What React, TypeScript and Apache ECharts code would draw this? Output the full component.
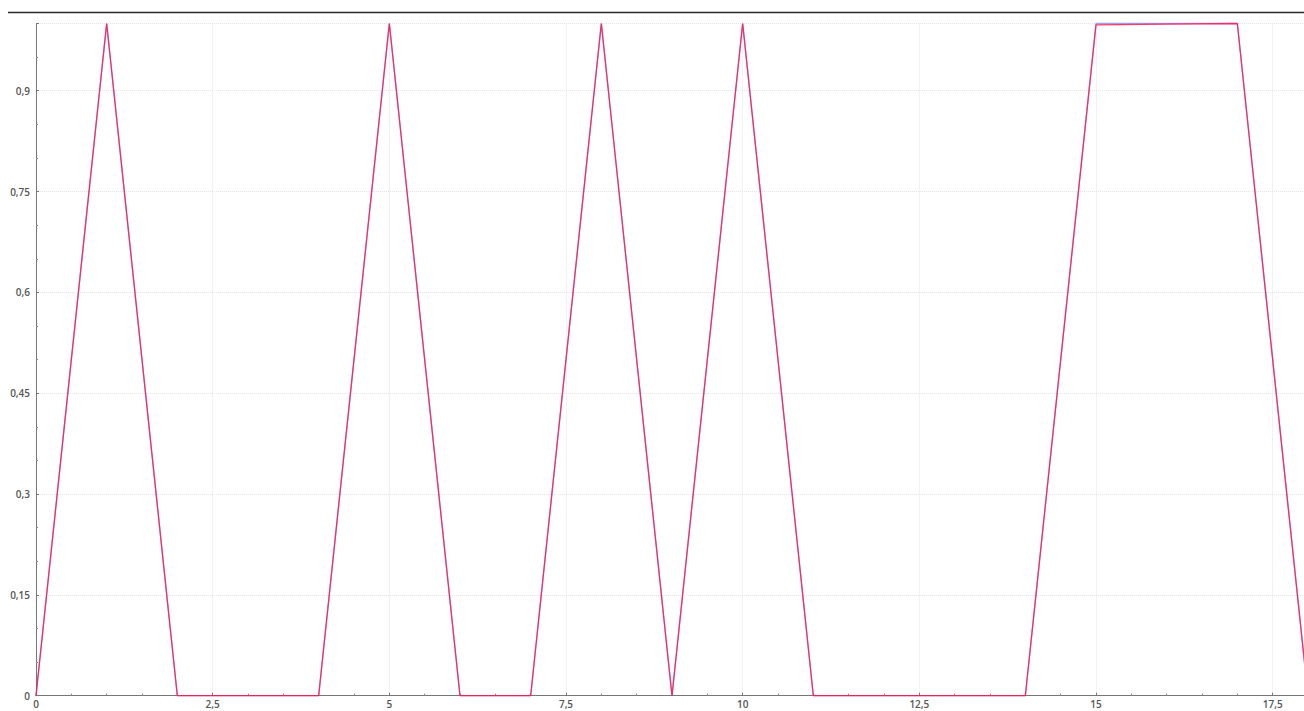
import React, { useEffect, useRef } from "react";
import * as echarts from "echarts";

const xValues = [0, 1, 2, 3, 4, 5, 6, 7, 8, 9, 10, 11, 12, 13, 14, 15, 16, 17, 18];
const blueValues = [0, 1, 0, 0, 0, 1, 0, 0, 1, 0, 1, 0, 0, 0, 0, 1, 1, 1, 0];
const redValues = [0, 1, 0, 0, 0, 1, 0, 0, 1, 0, 1, 0, 0, 0, 0, 0.998, 0.999, 1, 0];

const fmt = (v: number) => String(+v.toFixed(2)).replace(".", ",");

export default function App() {
  const ref = useRef<HTMLDivElement>(null);
  useEffect(() => {
    if (!ref.current) return;
    const chart = echarts.init(ref.current, null, { renderer: "svg" });
    const labelStyle = {
      fontFamily: "'Open Sans', 'Noto Sans', sans-serif",
      fontSize: 10,
      fontWeight: 600,
      color: "#555",
    };
    chart.setOption({
      animation: false,
      backgroundColor: "#ffffff",
      grid: { left: 36, right: 2, top: 23.5, bottom: 15.3, containLabel: false },
      graphic: [
        {
          type: "line",
          shape: { x1: 8, y1: 12.5, x2: 1310, y2: 12.5 },
          style: { stroke: "#2a2a2a", lineWidth: 1.5 },
          silent: true,
        },
      ],
      xAxis: {
        type: "value",
        min: 0,
        max: 18,
        interval: 2.5,
        z: 3,
        axisLine: { show: true, lineStyle: { color: "#777", width: 1 } },
        axisTick: { show: true, inside: true, length: 3, lineStyle: { color: "#777" } },
        minorTick: { show: true, splitNumber: 5, length: 2, lineStyle: { color: "#888" } },
        splitLine: { show: true, lineStyle: { color: "#e4e4e4", type: "dotted", width: 1 } },
        axisLabel: { ...labelStyle, margin: 3, showMaxLabel: false, formatter: (v: number) => fmt(v) },
      },
      yAxis: {
        type: "value",
        min: 0,
        max: 1,
        interval: 0.15,
        z: 3,
        axisLine: { show: true, lineStyle: { color: "#777", width: 1 } },
        axisTick: { show: true, inside: true, length: 3, lineStyle: { color: "#777" } },
        minorTick: { show: true, splitNumber: 3, length: 2, lineStyle: { color: "#888" } },
        splitLine: { show: true, lineStyle: { color: "#e4e4e4", type: "dotted", width: 1 } },
        axisLabel: {
          ...labelStyle,
          margin: 6,
          showMaxLabel: false,
          formatter: (v: number) => (v > 0.95 ? "" : fmt(v)),
        },
      },
      series: [
        {
          type: "line",
          name: "blue",
          data: xValues.map((x, i) => [x, blueValues[i]]),
          showSymbol: false,
          clip: false,
          lineStyle: { color: "rgba(90,90,255,0.55)", width: 1.3 },
          itemStyle: { color: "rgba(90,90,255,0.55)" },
        },
        {
          type: "line",
          name: "red",
          data: xValues.map((x, i) => [x, redValues[i]]),
          showSymbol: false,
          clip: false,
          lineStyle: { color: "rgba(255,25,75,0.85)", width: 1.3 },
          itemStyle: { color: "rgba(255,25,75,0.85)" },
        },
      ],
    });
    return () => chart.dispose();
  }, []);
  return (
    <div style={{ position: "absolute", left: 0, top: 0, width: 1304, height: 711, overflow: "hidden" }}>
      <div ref={ref} style={{ width: 1310, height: 711 }} />
    </div>
  );
}
